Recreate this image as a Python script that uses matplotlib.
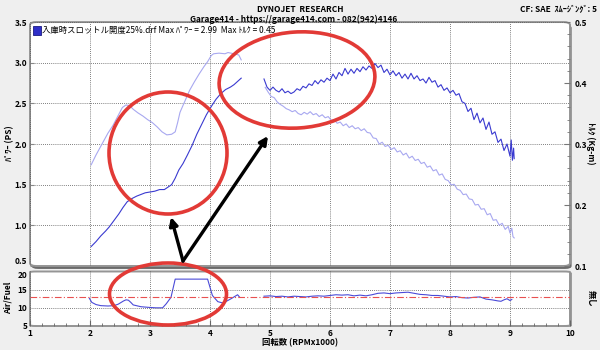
import numpy as np
import matplotlib
matplotlib.use("Agg")
import matplotlib.pyplot as plt
from matplotlib.patches import Ellipse, Rectangle, FancyBboxPatch
from matplotlib.ticker import MultipleLocator

plt.rcParams['font.family'] = ['Noto Sans CJK JP', 'DejaVu Sans']

# --- data: run 1 (2000-4500 rpm) ---
rpm_a = [2.02, 2.10, 2.18, 2.26, 2.32, 2.40, 2.48, 2.55, 2.62, 2.70, 2.78, 2.85, 2.92, 3.00,
         3.08, 3.16, 3.24, 3.30, 3.36, 3.42, 3.48, 3.55, 3.62, 3.70, 3.78, 3.86, 3.94, 4.02,
         4.10, 4.18, 4.26, 4.34, 4.40, 4.46, 4.52]
power_a = [0.74, 0.80, 0.87, 0.93, 0.98, 1.06, 1.14, 1.22, 1.29, 1.33, 1.36, 1.38, 1.40, 1.41,
           1.42, 1.44, 1.44, 1.47, 1.50, 1.58, 1.68, 1.76, 1.86, 1.98, 2.12, 2.24, 2.36, 2.46,
           2.55, 2.62, 2.67, 2.70, 2.73, 2.77, 2.81]
torque_rpm_a = [2.02, 2.10, 2.20, 2.30, 2.38, 2.46, 2.54, 2.60, 2.66, 2.72, 2.80, 2.88, 2.96,
                3.04, 3.12, 3.20, 3.28, 3.36, 3.42, 3.46, 3.50, 3.58, 3.66, 3.74, 3.82, 3.90,
                3.96, 4.02, 4.06, 4.15, 4.25, 4.30, 4.40, 4.48, 4.52]
torque_a = [0.266, 0.282, 0.300, 0.318, 0.330, 0.345, 0.360, 0.364, 0.363, 0.357, 0.351, 0.346,
            0.340, 0.335, 0.328, 0.320, 0.315, 0.316, 0.320, 0.335, 0.352, 0.370, 0.388, 0.402,
            0.415, 0.427, 0.435, 0.445, 0.448, 0.449, 0.448, 0.450, 0.448, 0.446, 0.438]

# --- data: run 2 (4900-9070 rpm) ---
rpm_b = [4.90, 4.95, 5.00, 5.05, 5.10, 5.15, 5.20, 5.25, 5.30, 5.35, 5.40, 5.45, 5.50, 5.55,
         5.60, 5.65, 5.70, 5.75, 5.80, 5.85, 5.90, 5.95, 6.00, 6.05, 6.10, 6.15, 6.20, 6.25,
         6.30, 6.35, 6.40, 6.45, 6.50, 6.55, 6.60, 6.65, 6.70, 6.75, 6.80, 6.85, 6.90, 6.95,
         7.00, 7.05, 7.10, 7.15, 7.20, 7.25, 7.30, 7.35, 7.40, 7.45, 7.50, 7.55, 7.60, 7.65,
         7.70, 7.75, 7.80, 7.85, 7.90, 7.95, 8.00, 8.05, 8.10, 8.15, 8.20, 8.25, 8.30, 8.35,
         8.40, 8.45, 8.50, 8.55, 8.60, 8.65, 8.70, 8.75, 8.80, 8.85, 8.90, 8.95, 9.00, 9.02,
         9.04, 9.06, 9.07]
power_b = [2.80, 2.70, 2.66, 2.70, 2.66, 2.64, 2.68, 2.63, 2.65, 2.62, 2.64, 2.68, 2.66, 2.71,
           2.69, 2.74, 2.72, 2.78, 2.74, 2.79, 2.76, 2.81, 2.78, 2.86, 2.80, 2.88, 2.84, 2.93,
           2.86, 2.92, 2.87, 2.93, 2.89, 2.95, 2.91, 2.96, 2.93, 2.99, 2.94, 2.97, 2.88, 2.92,
           2.85, 2.90, 2.84, 2.88, 2.81, 2.86, 2.80, 2.87, 2.80, 2.84, 2.78, 2.80, 2.75, 2.82,
           2.76, 2.78, 2.70, 2.73, 2.66, 2.69, 2.63, 2.66, 2.60, 2.62, 2.52, 2.50, 2.40, 2.44,
           2.30, 2.38, 2.26, 2.32, 2.18, 2.27, 2.12, 2.15, 2.02, 2.06, 1.92, 2.00, 1.85, 2.05,
           1.80, 1.95, 1.82]
torque_rpm_b = [4.92, 4.97, 5.02, 5.07, 5.12, 5.17, 5.22, 5.27, 5.32, 5.37, 5.42, 5.47, 5.52,
                5.57, 5.62, 5.67, 5.72, 5.77, 5.82, 5.87, 5.92, 5.97, 6.02, 6.07, 6.12, 6.17,
                6.22, 6.27, 6.32, 6.37, 6.42, 6.47, 6.52, 6.57, 6.62, 6.67, 6.72, 6.77, 6.82,
                6.87, 6.92, 6.97, 7.02, 7.07, 7.12, 7.17, 7.22, 7.27, 7.32, 7.37, 7.42, 7.47,
                7.52, 7.57, 7.62, 7.67, 7.72, 7.77, 7.82, 7.87, 7.92, 7.97, 8.02, 8.07, 8.12,
                8.17, 8.22, 8.27, 8.32, 8.37, 8.42, 8.47, 8.52, 8.57, 8.62, 8.67, 8.72, 8.77,
                8.82, 8.87, 8.92, 8.97, 9.00, 9.03, 9.05, 9.07]
torque_b = [0.393, 0.385, 0.378, 0.376, 0.369, 0.365, 0.362, 0.358, 0.356, 0.353, 0.355, 0.350,
            0.348, 0.352, 0.349, 0.353, 0.348, 0.350, 0.345, 0.348, 0.343, 0.345, 0.339, 0.340,
            0.334, 0.336, 0.330, 0.333, 0.327, 0.330, 0.325, 0.327, 0.322, 0.325, 0.319, 0.318,
            0.310, 0.309, 0.300, 0.303, 0.296, 0.298, 0.291, 0.294, 0.287, 0.289, 0.282, 0.285,
            0.277, 0.280, 0.273, 0.275, 0.268, 0.270, 0.262, 0.264, 0.256, 0.258, 0.249, 0.251,
            0.242, 0.240, 0.233, 0.234, 0.226, 0.224, 0.217, 0.218, 0.210, 0.209, 0.200, 0.201,
            0.193, 0.194, 0.184, 0.186, 0.175, 0.176, 0.167, 0.170, 0.160, 0.165, 0.154, 0.162,
            0.148, 0.146]

# --- air/fuel ---
afr_rpm_a = [1.99, 2.03, 2.10, 2.18, 2.30, 2.40, 2.47, 2.52, 2.56, 2.60, 2.64, 2.68, 2.72,
             2.85, 3.00, 3.10, 3.21, 3.27, 3.35, 3.42, 3.96, 4.04, 4.13, 4.22, 4.35, 4.46, 4.49]
afr_a = [12.6, 11.5, 10.9, 10.6, 10.5, 10.6, 11.0, 11.5, 11.9, 12.2, 12.1, 11.5, 10.8,
         10.3, 10.1, 10.0, 10.0, 11.1, 12.9, 17.9, 17.9, 13.4, 11.7, 11.3, 12.5, 13.6, 13.0]
afr_rpm_b = [4.90, 5.00, 5.10, 5.20, 5.30, 5.40, 5.50, 5.60, 5.70, 5.80, 5.90, 6.00, 6.10,
             6.20, 6.30, 6.40, 6.50, 6.60, 6.70, 6.80, 6.90, 7.00, 7.10, 7.20, 7.30, 7.40,
             7.50, 7.60, 7.70, 7.80, 7.90, 8.00, 8.10, 8.20, 8.30, 8.40, 8.50, 8.55, 8.60,
             8.70, 8.80, 8.85, 8.90, 8.95, 9.00, 9.03]
afr_b = [13.2, 13.3, 13.1, 13.2, 13.0, 13.2, 13.1, 13.0, 13.2, 13.3, 13.2, 13.4, 13.6,
         13.5, 13.6, 13.3, 13.5, 13.3, 13.6, 14.0, 14.1, 13.9, 14.1, 14.2, 14.3, 14.0,
         13.7, 13.6, 13.4, 13.4, 13.2, 13.0, 13.1, 12.8, 12.7, 12.9, 13.0, 12.7, 12.4,
         12.2, 11.9, 11.8, 12.2, 12.5, 12.0, 12.3]
afr_target = 13.0

# annotation shapes (figure pixels, 600x350)
ellipses = [((168, 153), 118, 122, 0), ((297, 80), 156, 96, -4), ((168, 294), 117, 62, 0)]
arrow_tail = (183, 261)
arrow_heads = [(171, 217), (268, 136)]

power_col = '#3a3ad0'
torque_col = '#a8a8f0'
bg = '#efefef'
tick_font = dict(fontsize=6, fontweight='bold')

fig = plt.figure(figsize=(6, 3.5), dpi=100, facecolor=bg)
ax = fig.add_axes([0.05, 0.24, 0.9, 0.697])
ax2 = ax.twinx()
axb = fig.add_axes([0.05, 0.0686, 0.9, 0.1557])


def frame(a):
    a.patch.set_visible(False)
    for s in a.spines.values():
        s.set_visible(False)
    # shadow, then the rounded white box
    shadow = FancyBboxPatch((0.003, -0.012), 1, 1, boxstyle="round,pad=0,rounding_size=0.012",
                            transform=a.transAxes, fc='#6a6a6a', ec='none',
                            zorder=-6, clip_on=False)
    a.add_patch(shadow)
    box = FancyBboxPatch((0, 0), 1, 1, boxstyle="round,pad=0,rounding_size=0.012",
                         transform=a.transAxes, fc='white', ec='#959595', lw=1.4,
                         zorder=-5, clip_on=False)
    a.add_patch(box)


frame(ax)
ax2.patch.set_visible(False)
for s in ax2.spines.values():
    s.set_visible(False)
frame(axb)

# main panel
ax.plot(rpm_a, power_a, color=power_col, lw=0.8)
ax.plot(rpm_b, power_b, color=power_col, lw=0.8)
ax2.plot(torque_rpm_a, torque_a, color=torque_col, lw=0.8)
ax2.plot(torque_rpm_b, torque_b, color=torque_col, lw=0.8)

ax.set_xlim(1, 10)
ax.set_ylim(0.5, 3.5)
ax2.set_ylim(0.1, 0.5)
ax.yaxis.set_major_locator(MultipleLocator(0.5))
ax.xaxis.set_major_locator(MultipleLocator(1))
ax.grid(True, color='#555555', ls=(0, (1, 1.5)), lw=0.6)
ax.tick_params(axis='x', length=0, labelbottom=False)
ax.tick_params(axis='y', direction='in', length=3, color='#888888', pad=2)
ax.set_yticks(np.arange(0.5, 3.51, 0.5))
ax.set_yticklabels([f'{v:.1f}' for v in np.arange(0.5, 3.51, 0.5)], **tick_font)
ax.get_yticklabels()[0].set_va('bottom')
ax2.yaxis.set_major_locator(MultipleLocator(0.1))
ax2.yaxis.set_minor_locator(MultipleLocator(0.02))
ax2.tick_params(axis='y', which='both', direction='in', color='#777777', pad=3)
ax2.tick_params(axis='y', which='major', length=4)
ax2.tick_params(axis='y', which='minor', length=2)
ax2.set_yticks(np.arange(0.1, 0.51, 0.1))
ax2.set_yticklabels([f'{v:.1f}' for v in np.arange(0.1, 0.51, 0.1)], **tick_font)

maxp = max(power_a + power_b)
maxt = max(torque_a + torque_b)
ax.add_patch(Rectangle((0.006, 0.945), 0.015, 0.04, transform=ax.transAxes,
                       fc='#2f2fc8', ec='#1a1a80', lw=0.6))
ax.text(0.023, 0.965, f'入庫時スロットル開度25%.drf Max ﾊﾟﾜｰ = {maxp:.2f}  Max ﾄﾙｸ = {maxt:.2f}',
        transform=ax.transAxes, fontsize=6, va='center', ha='left')

# air/fuel panel
axb.plot(afr_rpm_a, afr_a, color='#4a4ad8', lw=0.8)
axb.plot(afr_rpm_b, afr_b, color='#4a4ad8', lw=0.8)
axb.axhline(afr_target, color='#e85050', lw=0.8, ls=(0, (6, 2, 1, 2)))
axb.set_xlim(1, 10)
axb.set_ylim(5, 20)
axb.set_yticks([5, 10, 15, 20])
axb.set_yticklabels(['5', '10', '15', '20'], **tick_font)
axb.get_yticklabels()[-1].set_va('top')
axb.set_xticks(range(1, 11))
axb.set_xticklabels([str(i) for i in range(1, 11)], **tick_font)
axb.xaxis.set_minor_locator(MultipleLocator(0.2))
axb.tick_params(axis='x', which='both', direction='in', color='#666666', pad=2)
axb.tick_params(axis='x', which='major', length=4)
axb.tick_params(axis='x', which='minor', length=2)
axb.tick_params(axis='y', length=0, pad=2)
axb.grid(True, axis='x', color='#555555', ls=(0, (1, 1.5)), lw=0.6)
for v in (10, 15):
    axb.axhline(v, color='#555555', ls=(0, (1, 1.5)), lw=0.6)

# labels and header
fig.text(0.5, 0.985, 'DYNOJET  RESEARCH', ha='center', va='top', fontsize=6, fontweight='bold')
fig.text(0.49, 0.958, 'Garage414 - https://garage414.com - 082(942)4146', ha='center', va='top',
         fontsize=6, fontweight='bold')
fig.text(0.995, 0.985, 'CF: SAE  ｽﾑｰｼﾞﾝｸﾞ: 5', ha='right', va='top', fontsize=6, fontweight='bold')
fig.text(0.017, 0.59, 'ﾊﾟﾜｰ (PS)', rotation=90, ha='center', va='center', fontsize=6, fontweight='bold')
fig.text(0.985, 0.59, 'ﾄﾙｸ (Kg-m)', rotation=270, ha='center', va='center', fontsize=6, fontweight='bold')
fig.text(0.013, 0.148, 'Air/Fuel', rotation=90, ha='center', va='center', fontsize=6, fontweight='bold')
fig.text(0.985, 0.148, '無し', rotation=270, ha='center', va='center', fontsize=6, fontweight='bold')
fig.text(0.5, 0.02, '回転数 (RPMx1000)', ha='center', va='center', fontsize=6, fontweight='bold')

# red circles and arrows drawn over the chart
ov = fig.add_axes([0, 0, 1, 1], facecolor='none')
ov.set_xlim(0, 600)
ov.set_ylim(350, 0)
ov.axis('off')
for (cx, cy), w, h, ang in ellipses:
    ov.add_patch(Ellipse((cx, cy), w, h, angle=ang, fill=False, ec='#e23a36', lw=2.6))
for hx, hy in arrow_heads:
    ov.annotate('', xy=(hx, hy), xytext=arrow_tail,
                arrowprops=dict(arrowstyle='-|>', color='black', lw=2.4, mutation_scale=12,
                                shrinkA=0, shrinkB=0))

fig.savefig('out.png', dpi=100, facecolor=bg)
